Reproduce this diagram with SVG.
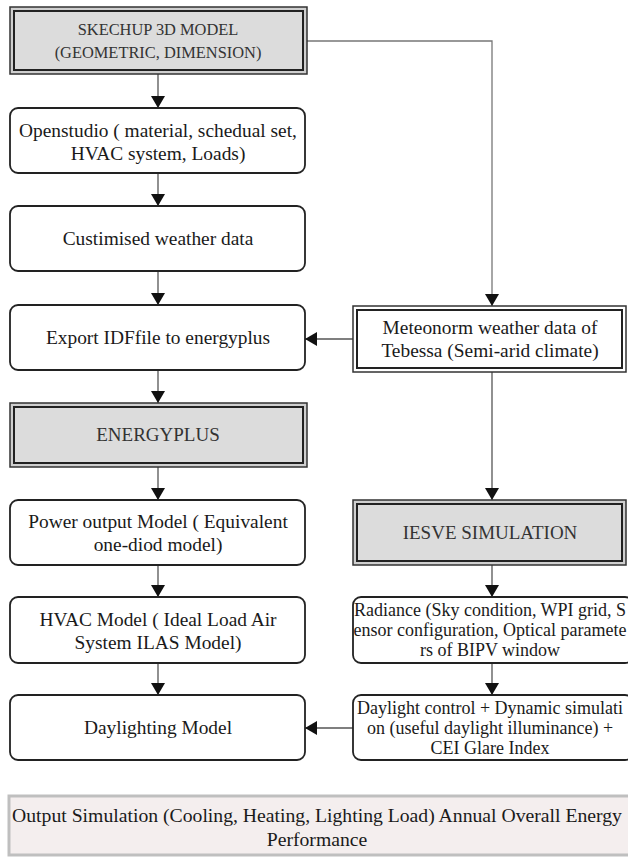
<svg xmlns="http://www.w3.org/2000/svg" width="628" height="858" viewBox="0 0 628 858" font-family="'Liberation Serif', 'DejaVu Serif', serif">
<defs>
<marker id="ah" markerUnits="userSpaceOnUse" markerWidth="12" markerHeight="16" viewBox="0 0 12 16" refX="12" refY="8" orient="auto">
<path d="M0,1 L12,8 L0,15 Z" fill="#111"/>
</marker>
</defs>
<style>
text{font-family:'Liberation Serif','DejaVu Serif',serif;fill:#1a1a1a;text-anchor:middle;}
.t{font-size:19.4px;}
.s{font-size:18px;}
.cap{font-size:16.4px;fill:#333;}
.big{font-size:19px;fill:#333;}
.o{font-size:19.7px;}
.rb{fill:#fff;stroke:#222;stroke-width:1.8;}
.dbo{fill:#cfcfcf;stroke:#333;stroke-width:1.5;}
.dbi{fill:#dcdcdc;stroke:#222;stroke-width:2;}
.wbo{fill:#fff;stroke:#333;stroke-width:1.5;}
.wbi{fill:#fff;stroke:#222;stroke-width:2;}
.c{fill:none;stroke:#555;stroke-width:1.3;}
</style>
<g id="connectors">
<line class="c" x1="158" y1="74" x2="158" y2="108" marker-end="url(#ah)"/>
<polyline class="c" points="307,41 492,41 492,306" marker-end="url(#ah)" style="stroke:#777"/>
<line class="c" x1="158" y1="173" x2="158" y2="206" marker-end="url(#ah)"/>
<line class="c" x1="158" y1="271" x2="158" y2="305" marker-end="url(#ah)"/>
<line class="c" x1="353" y1="339" x2="305" y2="339" marker-end="url(#ah)"/>
<line class="c" x1="158" y1="370" x2="158" y2="403" marker-end="url(#ah)"/>
<line class="c" x1="492" y1="372" x2="492" y2="500" marker-end="url(#ah)"/>
<line class="c" x1="158" y1="467" x2="158" y2="500" marker-end="url(#ah)"/>
<line class="c" x1="158" y1="565" x2="158" y2="597" marker-end="url(#ah)"/>
<line class="c" x1="158" y1="663" x2="158" y2="695" marker-end="url(#ah)"/>
<line class="c" x1="492" y1="565" x2="492" y2="597" marker-end="url(#ah)"/>
<line class="c" x1="492" y1="663" x2="492" y2="695" marker-end="url(#ah)"/>
<line class="c" x1="353" y1="728" x2="305" y2="728" marker-end="url(#ah)"/>
</g>
<g id="sketchup">
<rect class="dbo" x="10" y="7" width="297" height="67"/>
<rect class="dbi" x="14" y="11" width="289" height="59"/>
<text class="cap" x="158" y="35">SKECHUP 3D MODEL</text>
<text class="cap" x="158" y="58">(GEOMETRIC, DIMENSION)</text>
</g>
<g id="openstudio">
<rect class="rb" x="10" y="108" width="295" height="65" rx="8"/>
<text class="t" x="158" y="137">Openstudio ( material, schedual set,</text>
<text class="t" x="158" y="160">HVAC system, Loads)</text>
</g>
<g id="customised">
<rect class="rb" x="10" y="206" width="295" height="65" rx="8"/>
<text class="t" x="158" y="245">Custimised weather data</text>
</g>
<g id="export">
<rect class="rb" x="10" y="305" width="295" height="65" rx="8"/>
<text class="t" x="158" y="344">Export IDFfile to energyplus</text>
</g>
<g id="meteonorm">
<rect class="wbo" x="353" y="306" width="273" height="66"/>
<rect class="wbi" x="357" y="310" width="265" height="58"/>
<text class="t" x="490" y="334">Meteonorm weather data of</text>
<text class="t" x="490" y="357">Tebessa (Semi-arid climate)</text>
</g>
<g id="energyplus">
<rect class="dbo" x="10" y="403" width="297" height="64"/>
<rect class="dbi" x="14" y="407" width="289" height="56"/>
<text class="big" x="158" y="441">ENERGYPLUS</text>
</g>
<g id="iesve">
<rect class="dbo" x="353" y="500" width="273" height="65"/>
<rect class="dbi" x="357" y="504" width="265" height="57"/>
<text class="big" x="490" y="539">IESVE SIMULATION</text>
</g>
<g id="power">
<rect class="rb" x="10" y="500" width="295" height="65" rx="8"/>
<text class="t" x="158" y="528">Power output Model ( Equivalent</text>
<text class="t" x="158" y="551">one-diod model)</text>
</g>
<g id="hvac">
<rect class="rb" x="10" y="597" width="295" height="66" rx="8"/>
<text class="t" x="158" y="626">HVAC Model ( Ideal Load Air</text>
<text class="t" x="158" y="649">System ILAS Model)</text>
</g>
<g id="radiance">
<rect class="rb" x="353" y="597" width="280" height="66" rx="8"/>
<text class="s" x="490" y="616">Radiance (Sky condition, WPI grid, S</text>
<text class="s" x="490" y="636">ensor configuration, Optical paramete</text>
<text class="s" x="490" y="656">rs of BIPV window</text>
</g>
<g id="daylighting">
<rect class="rb" x="10" y="695" width="295" height="65" rx="8"/>
<text class="t" x="158" y="734">Daylighting Model</text>
</g>
<g id="daylightcontrol">
<rect class="rb" x="353" y="695" width="280" height="65" rx="8"/>
<text class="s" x="490" y="714">Daylight control + Dynamic simulati</text>
<text class="s" x="490" y="734">on (useful daylight illuminance) +</text>
<text class="s" x="490" y="754">CEI Glare Index</text>
</g>
<g id="output">
<rect x="9" y="796" width="622" height="59" fill="#f4eeee" stroke="#bfbfbf" stroke-width="3"/>
<text class="o" x="317" y="822">Output Simulation (Cooling, Heating, Lighting Load) Annual Overall Energy</text>
<text class="o" x="317" y="846">Performance</text>
</g>
</svg>
